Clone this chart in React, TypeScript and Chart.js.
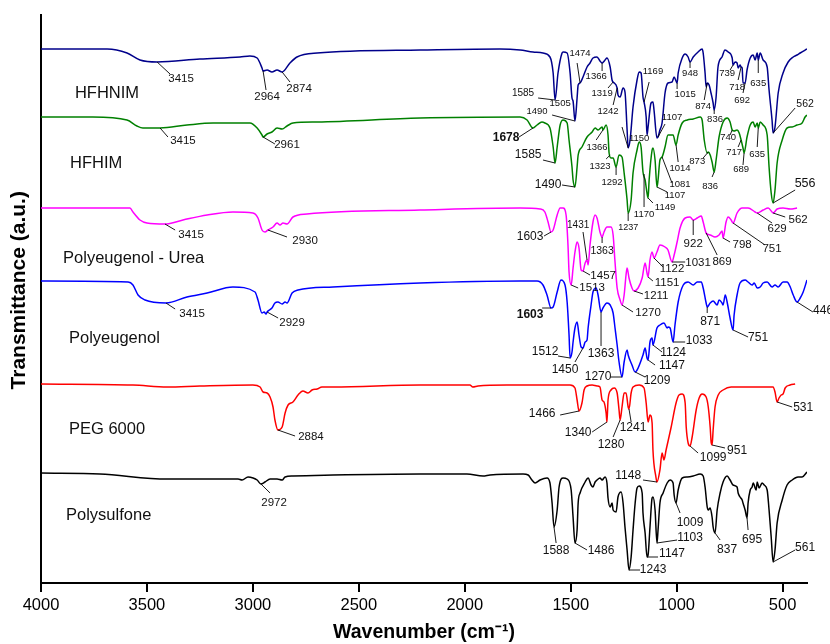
import React, { useEffect, useRef } from "react";
import { Chart, registerables } from "chart.js";

Chart.register(...registerables);

// ---------- data ----------
const X_TICKS = [4000, 3500, 3000, 2500, 2000, 1500, 1000, 500];
const SERIES_NAMES = ["HFHNIM", "HFHIM", "Polyeugenol - Urea", "Polyeugenol", "PEG 6000", "Polysulfone"];

// [wavenumber (cm-1), transmittance (a.u., offset stacked)]
const hfhnim = [
  [4000, 534], [3688, 534], [3594, 530], [3533, 523], [3452, 521], [3250, 524], [3061, 526], [3014, 527], [2980, 525],
  [2957, 515], [2952, 512], [2933, 513], [2910, 511], [2886, 513], [2862, 511], [2825, 520], [2792, 526], [2697, 530],
  [2211, 533], [1834, 534], [1739, 533], [1678, 531], [1631, 530], [1598, 526], [1583, 510], [1574, 483], [1560, 510],
  [1541, 530], [1536, 531], [1517, 530], [1503, 510], [1494, 485], [1489, 482], [1480, 462], [1470, 485], [1465, 498],
  [1456, 500], [1442, 506], [1423, 516], [1409, 520], [1395, 525], [1376, 526], [1362, 522], [1352, 520], [1338, 523],
  [1329, 525], [1314, 516], [1305, 503], [1300, 501], [1281, 495], [1277, 488], [1267, 486], [1253, 495], [1244, 491],
  [1234, 453], [1229, 435], [1220, 443], [1206, 476], [1187, 503], [1177, 511], [1168, 510], [1159, 486], [1154, 481],
  [1144, 466], [1140, 448], [1135, 456], [1121, 480], [1112, 481], [1107, 473], [1093, 445], [1088, 446], [1079, 453],
  [1069, 460], [1055, 490], [1041, 500], [1022, 501], [1012, 506], [998, 500], [993, 510], [974, 525], [960, 529],
  [946, 526], [937, 521], [922, 526], [899, 531], [880, 534], [875, 530], [866, 510], [861, 496], [856, 500], [847, 498],
  [838, 490], [828, 480], [823, 473], [814, 486], [805, 516], [786, 526], [772, 533], [757, 531], [738, 525], [734, 518],
  [724, 521], [715, 520], [710, 515], [701, 518], [696, 516], [691, 515], [687, 500], [677, 500], [668, 513], [653, 525],
  [639, 528], [630, 523], [620, 530], [615, 523], [606, 530], [592, 523], [573, 516], [564, 493], [550, 463], [545, 450],
  [536, 456], [521, 490], [498, 510], [474, 521], [450, 526], [432, 528], [417, 530], [385, 534],
];

const hfhim = [
  [4000, 466], [3756, 466], [3594, 463], [3547, 457], [3519, 455], [3438, 455], [3311, 458], [3188, 460], [3094, 460],
  [3014, 460], [2980, 455], [2957, 448], [2952, 446], [2933, 449], [2910, 451], [2886, 455], [2862, 454], [2839, 457],
  [2811, 460], [2697, 461], [2211, 465], [1739, 466], [1706, 463], [1678, 455], [1659, 458], [1636, 461], [1622, 460],
  [1598, 455], [1583, 436], [1574, 420], [1564, 436], [1550, 458], [1536, 463], [1517, 460], [1508, 443], [1494, 416],
  [1489, 403], [1480, 396], [1470, 416], [1465, 428], [1447, 436], [1423, 446], [1399, 451], [1385, 455], [1371, 453],
  [1352, 456], [1348, 453], [1333, 458], [1324, 448], [1319, 430], [1310, 425], [1300, 425], [1286, 416], [1272, 428],
  [1258, 426], [1248, 410], [1234, 383], [1229, 370], [1215, 383], [1206, 410], [1187, 433], [1177, 441], [1168, 436],
  [1159, 411], [1149, 403], [1140, 390], [1135, 385], [1130, 403], [1116, 433], [1112, 435], [1102, 423], [1093, 396],
  [1088, 403], [1079, 423], [1069, 426], [1055, 436], [1041, 448], [1017, 448], [1003, 438], [993, 448], [974, 460],
  [950, 463], [922, 464], [889, 466], [880, 463], [870, 443], [856, 430], [851, 431], [842, 428], [833, 421], [823, 411],
  [814, 423], [800, 446], [781, 461], [762, 465], [748, 461], [738, 453], [729, 452], [715, 453], [705, 450], [696, 443],
  [687, 435], [682, 430], [668, 446], [653, 458], [639, 461], [630, 456], [620, 460], [615, 455], [606, 461], [592, 458],
  [573, 448], [564, 416], [554, 390], [545, 380], [536, 393], [526, 420], [502, 443], [479, 455], [455, 456], [432, 458],
  [408, 460], [394, 466], [385, 468],
];

const polyeugenolUrea = [
  [4000, 375], [3580, 375], [3566, 371], [3533, 363], [3500, 360], [3415, 359], [3330, 363], [3216, 368], [3094, 371],
  [3000, 370], [2976, 365], [2957, 353], [2943, 351], [2929, 353], [2905, 356], [2886, 360], [2872, 358], [2858, 360],
  [2839, 359], [2811, 366], [2745, 369], [2211, 373], [1739, 375], [1645, 374], [1622, 371], [1607, 361], [1593, 351],
  [1583, 353], [1564, 368], [1550, 375], [1536, 375], [1522, 368], [1513, 338], [1508, 311], [1498, 298], [1489, 315],
  [1480, 331], [1470, 341], [1461, 335], [1451, 313], [1442, 312], [1432, 320], [1423, 323], [1418, 318], [1409, 338],
  [1395, 361], [1385, 368], [1376, 365], [1362, 351], [1352, 346], [1343, 351], [1329, 356], [1310, 356], [1300, 348],
  [1291, 321], [1281, 295], [1267, 283], [1258, 278], [1248, 288], [1239, 308], [1234, 315], [1225, 305], [1211, 295],
  [1201, 292], [1182, 295], [1163, 305], [1149, 320], [1140, 310], [1135, 306], [1126, 323], [1116, 331], [1107, 325],
  [1093, 331], [1079, 338], [1055, 336], [1041, 333], [1022, 321], [1012, 328], [998, 341], [984, 355], [960, 365],
  [937, 366], [922, 363], [903, 365], [884, 367], [875, 361], [861, 350], [842, 348], [819, 346], [800, 348], [786, 352],
  [781, 345], [767, 361], [757, 366], [743, 363], [734, 360], [715, 370], [691, 375], [663, 375], [630, 371], [620, 370],
  [592, 373], [568, 375], [550, 371], [545, 370], [526, 374], [498, 375], [464, 374], [432, 375],
];

const polyeugenol = [
  [4000, 302], [3589, 301], [3566, 298], [3542, 288], [3509, 283], [3410, 280], [3311, 286], [3216, 290], [3094, 296],
  [2990, 291], [2976, 283], [2957, 270], [2947, 271], [2938, 269], [2933, 271], [2910, 275], [2896, 280], [2882, 281],
  [2862, 279], [2848, 281], [2839, 280], [2815, 290], [2787, 293], [2622, 296], [2211, 300], [1739, 302], [1659, 302],
  [1631, 298], [1612, 288], [1593, 275], [1583, 276], [1564, 291], [1546, 303], [1527, 298], [1517, 281], [1508, 248],
  [1503, 225], [1494, 231], [1489, 241], [1480, 255], [1470, 261], [1461, 248], [1451, 236], [1442, 235], [1432, 241],
  [1423, 243], [1418, 255], [1404, 278], [1395, 291], [1380, 295], [1371, 288], [1357, 271], [1348, 275], [1329, 280],
  [1314, 278], [1300, 270], [1291, 255], [1281, 238], [1272, 221], [1258, 206], [1248, 221], [1234, 233], [1229, 228],
  [1211, 218], [1196, 211], [1182, 215], [1159, 228], [1149, 235], [1140, 225], [1135, 223], [1126, 241], [1116, 245],
  [1112, 238], [1093, 255], [1079, 258], [1060, 260], [1045, 255], [1041, 256], [1031, 255], [1017, 241], [1008, 258],
  [993, 281], [969, 298], [946, 301], [922, 298], [903, 301], [884, 301], [875, 295], [861, 280], [856, 276], [842, 280],
  [828, 282], [809, 278], [800, 283], [786, 280], [781, 278], [771, 288], [762, 281], [748, 265], [734, 253], [729, 268],
  [715, 288], [701, 300], [677, 303], [663, 301], [644, 298], [634, 300], [620, 295], [606, 296], [592, 300], [573, 301],
  [550, 296], [536, 298], [521, 296], [498, 301], [479, 301], [464, 296], [450, 288], [432, 281], [417, 285], [403, 291],
  [385, 303],
];

const peg6000 = [
  [4000, 199], [3566, 198], [3405, 196], [3250, 197], [3000, 198], [2966, 196], [2952, 191], [2933, 190], [2919, 186],
  [2905, 176], [2896, 163], [2882, 153], [2862, 156], [2848, 170], [2834, 178], [2811, 181], [2787, 188], [2764, 192],
  [2740, 190], [2721, 193], [2697, 194], [2674, 196], [2622, 196], [2211, 198], [2117, 198], [1976, 198], [1962, 196],
  [1938, 197], [1801, 198], [1645, 198], [1503, 198], [1480, 195], [1470, 183], [1461, 172], [1447, 180], [1437, 193],
  [1423, 197], [1399, 198], [1376, 197], [1362, 196], [1352, 183], [1343, 181], [1333, 170], [1329, 161], [1324, 183],
  [1310, 193], [1295, 195], [1281, 190], [1272, 173], [1267, 163], [1258, 176], [1248, 190], [1239, 190], [1229, 176],
  [1225, 174], [1215, 190], [1206, 196], [1177, 198], [1154, 195], [1144, 180], [1135, 161], [1126, 168], [1116, 160],
  [1112, 133], [1098, 106], [1093, 101], [1079, 113], [1069, 130], [1060, 123], [1050, 133], [1027, 155], [1003, 180],
  [989, 188], [974, 189], [960, 180], [955, 156], [946, 140], [937, 137], [927, 146], [908, 173], [894, 185], [880, 189],
  [861, 186], [851, 176], [842, 156], [837, 140], [833, 138], [828, 153], [819, 176], [804, 188], [781, 193], [743, 196],
  [649, 196], [569, 196], [545, 196], [536, 191], [526, 181], [517, 185], [507, 188], [498, 189], [488, 195], [465, 198],
  [441, 199],
];

const polysulfone = [
  [4000, 110], [3722, 109], [3405, 104], [3169, 104], [3070, 104], [3051, 103], [3023, 106], [2999, 105], [2980, 103],
  [2962, 99], [2943, 101], [2919, 104], [2886, 104], [2862, 103], [2848, 106], [2811, 107], [2622, 108], [2211, 109],
  [2117, 109], [1990, 109], [1914, 107], [1881, 108], [1725, 109], [1701, 108], [1683, 103], [1668, 100], [1645, 103],
  [1612, 105], [1598, 100], [1588, 80], [1579, 56], [1564, 73], [1555, 96], [1536, 105], [1517, 104], [1498, 93],
  [1489, 66], [1480, 40], [1470, 53], [1465, 80], [1456, 90], [1432, 101], [1418, 105], [1404, 98], [1395, 96],
  [1385, 101], [1376, 103], [1362, 105], [1352, 103], [1338, 106], [1329, 100], [1324, 85], [1314, 76], [1305, 80],
  [1300, 73], [1286, 71], [1277, 86], [1262, 91], [1253, 80], [1244, 56], [1234, 33], [1225, 13], [1215, 26], [1206, 53],
  [1196, 80], [1187, 95], [1177, 97], [1163, 90], [1159, 70], [1149, 50], [1140, 26], [1135, 28], [1126, 56], [1116, 85],
  [1112, 86], [1102, 73], [1093, 40], [1088, 53], [1079, 80], [1064, 90], [1045, 100], [1031, 103], [1017, 100],
  [1012, 88], [1003, 80], [993, 93], [974, 105], [950, 106], [922, 107], [889, 109], [875, 107], [866, 96], [856, 76],
  [851, 73], [842, 75], [833, 66], [828, 56], [819, 50], [809, 73], [795, 90], [781, 101], [762, 107], [748, 103],
  [734, 98], [715, 96], [710, 90], [701, 86], [691, 83], [687, 80], [677, 73], [668, 65], [663, 80], [653, 93], [644, 96],
  [639, 100], [625, 93], [620, 101], [611, 95], [597, 100], [587, 98], [573, 93], [564, 73], [554, 46], [545, 21],
  [536, 33], [526, 60], [502, 83], [479, 98], [455, 103], [441, 105], [427, 106], [408, 106], [385, 111],
];

// peak labels: t = text, p = peak point, e = end of leader line, l = label centre (all in data units)
type Peak = { t: string; p: number[]; e: number[]; l: number[]; s: number; b?: boolean };

const hfhnimPeaks: Peak[] = [
  { t: "3415", p: [3452, 521], e: [3391, 509], l: [3339, 504], s: 11.5 },
  { t: "2964", p: [2952, 512], e: [2938, 493], l: [2933, 486], s: 11.5 },
  { t: "2874", p: [2862, 511], e: [2825, 501], l: [2782, 494], s: 11.5 },
  { t: "1585", p: [1574, 483], e: [1654, 485], l: [1725, 490], s: 10 },
  { t: "1505", p: [1489, 482], e: [1489, 482], l: [1550, 480], s: 9.5 },
  { t: "1490", p: [1480, 462], e: [1588, 468], l: [1659, 472], s: 9.5 },
  { t: "1474", p: [1456, 500], e: [1470, 520], l: [1456, 530], s: 9.5 },
  { t: "1366", p: [1352, 520], e: [1352, 512], l: [1380, 507], s: 9.5 },
  { t: "1319", p: [1300, 501], e: [1324, 495], l: [1352, 490], s: 9.5 },
  { t: "1242", p: [1281, 495], e: [1300, 478], l: [1324, 472], s: 9.5 },
  { t: "1150", p: [1229, 435], e: [1258, 456], l: [1177, 445], s: 9.5 },
  { t: "1169", p: [1154, 481], e: [1130, 501], l: [1112, 512], s: 9.5 },
  { t: "1107", p: [1088, 446], e: [1055, 459], l: [1022, 466], s: 9.5 },
  { t: "1015", p: [998, 500], e: [998, 494], l: [960, 489], s: 9.5 },
  { t: "948", p: [937, 521], e: [937, 515], l: [937, 510], s: 9.5 },
  { t: "874", p: [856, 500], e: [870, 483], l: [875, 477], s: 9.5 },
  { t: "836", p: [823, 473], e: [823, 469], l: [819, 464], s: 9.5 },
  { t: "739", p: [734, 518], e: [748, 513], l: [762, 510], s: 9.5 },
  { t: "718", p: [696, 516], e: [710, 503], l: [715, 496], s: 9.5 },
  { t: "692", p: [677, 500], e: [687, 490], l: [691, 483], s: 9.5 },
  { t: "635", p: [615, 523], e: [615, 510], l: [615, 500], s: 9.5 },
  { t: "562", p: [545, 450], e: [441, 475], l: [394, 479], s: 10.5 },
];

const hfhimPeaks: Peak[] = [
  { t: "3415", p: [3438, 455], e: [3401, 446], l: [3330, 442], s: 11.5 },
  { t: "2961", p: [2952, 446], e: [2896, 439], l: [2839, 438], s: 11.5 },
  { t: "1678", p: [1678, 455], e: [1744, 446], l: [1805, 445], s: 12, b: true },
  { t: "1585", p: [1574, 420], e: [1631, 423], l: [1701, 428], s: 12 },
  { t: "1490", p: [1480, 396], e: [1541, 398], l: [1607, 398], s: 12 },
  { t: "1366", p: [1348, 453], e: [1380, 443], l: [1376, 436], s: 9.5 },
  { t: "1323", p: [1314, 428], e: [1333, 424], l: [1362, 417], s: 9.5 },
  { t: "1292", p: [1286, 416], e: [1286, 408], l: [1305, 401], s: 9.5 },
  { t: "1237", p: [1229, 370], e: [1229, 362], l: [1229, 355], s: 9 },
  { t: "1170", p: [1154, 409], e: [1154, 376], l: [1154, 369], s: 9.5 },
  { t: "1149", p: [1135, 385], e: [1112, 380], l: [1055, 376], s: 9.5 },
  { t: "1107", p: [1093, 396], e: [1045, 391], l: [1008, 388], s: 9.5 },
  { t: "1081", p: [1069, 426], e: [1022, 400], l: [984, 399], s: 9.5 },
  { t: "1014", p: [1003, 438], e: [993, 421], l: [984, 415], s: 9.5 },
  { t: "873", p: [851, 431], e: [875, 425], l: [903, 422], s: 9.5 },
  { t: "836", p: [823, 411], e: [833, 406], l: [842, 397], s: 9.5 },
  { t: "740", p: [738, 453], e: [748, 448], l: [757, 446], s: 9.5 },
  { t: "717", p: [696, 443], e: [710, 436], l: [729, 431], s: 9.5 },
  { t: "689", p: [682, 430], e: [687, 418], l: [696, 414], s: 9.5 },
  { t: "635", p: [615, 455], e: [620, 436], l: [620, 429], s: 9.5 },
  { t: "556", p: [545, 380], e: [441, 393], l: [394, 399], s: 12.5 },
];

const polyeugenolUreaPeaks: Peak[] = [
  { t: "3415", p: [3415, 359], e: [3367, 353], l: [3292, 348], s: 11.5 },
  { t: "2930", p: [2929, 353], e: [2839, 346], l: [2754, 342], s: 11.5 },
  { t: "1603", p: [1593, 351], e: [1626, 347], l: [1692, 346], s: 12 },
  { t: "1431", p: [1423, 323], e: [1442, 351], l: [1465, 358], s: 10 },
  { t: "1363", p: [1352, 346], e: [1352, 340], l: [1352, 332], s: 10.5 },
  { t: "1457", p: [1442, 312], e: [1409, 308], l: [1347, 307], s: 11.5 },
  { t: "1513", p: [1498, 298], e: [1465, 295], l: [1399, 295], s: 11.5 },
  { t: "1270", p: [1258, 278], e: [1206, 271], l: [1135, 270], s: 11.5 },
  { t: "1211", p: [1201, 292], e: [1159, 289], l: [1097, 287], s: 11.5 },
  { t: "1151", p: [1135, 306], e: [1112, 302], l: [1045, 300], s: 11.5 },
  { t: "1122", p: [1107, 325], e: [1064, 316], l: [1022, 314], s: 11.5 },
  { t: "1031", p: [1022, 321], e: [960, 321], l: [899, 320], s: 11.5 },
  { t: "922", p: [922, 363], e: [922, 348], l: [922, 339], s: 11.5 },
  { t: "869", p: [861, 350], e: [809, 328], l: [786, 321], s: 11.5 },
  { t: "798", p: [781, 345], e: [748, 341], l: [691, 338], s: 11.5 },
  { t: "751", p: [734, 360], e: [583, 338], l: [550, 334], s: 11.5 },
  { t: "629", p: [620, 370], e: [550, 360], l: [526, 354], s: 11.5 },
  { t: "562", p: [545, 370], e: [488, 366], l: [427, 363], s: 11.5 },
];

const polyeugenolPeaks: Peak[] = [
  { t: "3415", p: [3410, 280], e: [3367, 274], l: [3287, 269], s: 11.5 },
  { t: "2929", p: [2933, 271], e: [2881, 265], l: [2815, 260], s: 11.5 },
  { t: "1603", p: [1593, 275], e: [1635, 275], l: [1692, 268], s: 12, b: true },
  { t: "1512", p: [1503, 225], e: [1560, 227], l: [1621, 231], s: 12 },
  { t: "1450", p: [1442, 235], e: [1480, 221], l: [1527, 213], s: 12 },
  { t: "1363", p: [1357, 271], e: [1357, 237], l: [1357, 229], s: 12 },
  { t: "1270", p: [1258, 206], e: [1314, 206], l: [1371, 206], s: 12 },
  { t: "1209", p: [1196, 211], e: [1149, 206], l: [1093, 202], s: 12 },
  { t: "1147", p: [1135, 223], e: [1102, 218], l: [1022, 217], s: 12 },
  { t: "1124", p: [1112, 238], e: [1069, 231], l: [1017, 230], s: 12 },
  { t: "1033", p: [1017, 241], e: [960, 241], l: [894, 242], s: 12 },
  { t: "871", p: [856, 276], e: [856, 270], l: [842, 261], s: 12 },
  { t: "751", p: [734, 253], e: [663, 246], l: [616, 245], s: 12 },
  { t: "446", p: [432, 281], e: [357, 271], l: [309, 272], s: 12 },
];

const peg6000Peaks: Peak[] = [
  { t: "2884", p: [2882, 153], e: [2801, 147], l: [2726, 146], s: 11.5 },
  { t: "1466", p: [1461, 172], e: [1550, 168], l: [1635, 169], s: 12 },
  { t: "1340", p: [1329, 161], e: [1399, 151], l: [1465, 150], s: 12 },
  { t: "1280", p: [1267, 163], e: [1300, 146], l: [1310, 138], s: 12 },
  { t: "1241", p: [1225, 174], e: [1215, 161], l: [1206, 155], s: 12 },
  { t: "1148", p: [1093, 101], e: [1159, 103], l: [1229, 107], s: 12 },
  { t: "1099", p: [937, 137], e: [899, 130], l: [828, 125], s: 12 },
  { t: "951", p: [833, 138], e: [772, 135], l: [715, 132], s: 12 },
  { t: "531", p: [526, 181], e: [455, 176], l: [403, 175], s: 12 },
];

const polysulfonePeaks: Peak[] = [
  { t: "2972", p: [2962, 99], e: [2919, 90], l: [2900, 80], s: 11.5 },
  { t: "1588", p: [1579, 56], e: [1569, 40], l: [1569, 32], s: 12 },
  { t: "1486", p: [1480, 40], e: [1423, 33], l: [1357, 32], s: 12 },
  { t: "1243", p: [1225, 13], e: [1173, 13], l: [1111, 13], s: 12 },
  { t: "1147", p: [1140, 26], e: [1088, 26], l: [1022, 29], s: 12 },
  { t: "1103", p: [1093, 40], e: [998, 43], l: [937, 45], s: 12 },
  { t: "1009", p: [1003, 80], e: [984, 70], l: [937, 60], s: 12 },
  { t: "837", p: [819, 50], e: [795, 43], l: [762, 33], s: 12 },
  { t: "695", p: [668, 65], e: [663, 53], l: [644, 43], s: 12 },
  { t: "561", p: [545, 21], e: [441, 33], l: [394, 35], s: 12 },
];

// ---------- styling / placement ----------
const SERIES_DATA = [hfhnim, hfhim, polyeugenolUrea, polyeugenol, peg6000, polysulfone];
const SERIES_PEAKS = [hfhnimPeaks, hfhimPeaks, polyeugenolUreaPeaks, polyeugenolPeaks, peg6000Peaks, polysulfonePeaks];
const SERIES_COLORS = ["#00008B", "#008000", "#FF00FF", "#0000FF", "#FF0000", "#000000"];
const NAME_POS = [[3840, 490], [3863, 420], [3896, 325], [3868, 245], [3868, 154], [3882, 68]];

const FONT = "'Liberation Sans', Arial, Helvetica, sans-serif";

const labelPlugin = {
  id: "peakLabels",
  afterDraw(chart: any) {
    const { ctx, scales } = chart;
    const xs = scales.x;
    const ys = scales.y;
    ctx.save();
    ctx.textAlign = "center";
    ctx.textBaseline = "middle";
    SERIES_PEAKS.forEach((group) => {
      group.forEach((a) => {
        const px = xs.getPixelForValue(a.p[0]);
        const py = ys.getPixelForValue(a.p[1]);
        const ex = xs.getPixelForValue(a.e[0]);
        const ey = ys.getPixelForValue(a.e[1]);
        if (Math.abs(px - ex) + Math.abs(py - ey) > 0.5) {
          ctx.beginPath();
          ctx.moveTo(px, py);
          ctx.lineTo(ex, ey);
          ctx.strokeStyle = "#000";
          ctx.lineWidth = 0.9;
          ctx.stroke();
        }
        ctx.font = `${a.b ? "bold " : ""}${a.s}px ${FONT}`;
        ctx.fillStyle = "#111";
        ctx.fillText(a.t, xs.getPixelForValue(a.l[0]), ys.getPixelForValue(a.l[1]));
      });
    });
    ctx.textAlign = "left";
    ctx.font = `16.5px ${FONT}`;
    ctx.fillStyle = "#111";
    SERIES_NAMES.forEach((name, i) => {
      ctx.fillText(name, xs.getPixelForValue(NAME_POS[i][0]), ys.getPixelForValue(NAME_POS[i][1]));
    });
    ctx.restore();
  },
};

export default function App() {
  const ref = useRef<HTMLCanvasElement | null>(null);

  useEffect(() => {
    if (!ref.current) return;
    const chart = new Chart(ref.current, {
      type: "line",
      data: {
        datasets: SERIES_DATA.map((d, i) => ({
          label: SERIES_NAMES[i],
          data: d.map(([x, y]) => ({ x, y })),
          borderColor: SERIES_COLORS[i],
          borderWidth: 1.5,
          pointRadius: 0,
          cubicInterpolationMode: "monotone",
          fill: false,
        })),
      },
      options: {
        animation: false,
        responsive: false,
        maintainAspectRatio: false,
        layout: { padding: { left: 0, right: 23, top: 15, bottom: 0 } },
        plugins: { legend: { display: false }, tooltip: { enabled: false } },
        scales: {
          x: {
            type: "linear",
            reverse: true,
            min: 385,
            max: 4000,
            afterBuildTicks: (s: any) => {
              s.ticks = X_TICKS.map((value) => ({ value }));
            },
            afterFit: (s: any) => {
              s.height = 61;
            },
            grid: { drawOnChartArea: false, drawTicks: true, tickLength: 9, color: "#000", lineWidth: 2 },
            border: { display: true, color: "#000", width: 2 },
            ticks: {
              color: "#000",
              font: { family: FONT, size: 16.5 },
              padding: 4,
              maxRotation: 0,
              autoSkip: false,
              callback: (v: any) => String(v),
            },
            title: {
              display: true,
              text: "Wavenumber (cm\u207B\u00B9)",
              color: "#000",
              font: { family: FONT, size: 19.5, weight: "bold" },
              padding: { top: 0, bottom: 0 },
            },
          },
          y: {
            type: "linear",
            min: 0,
            max: 568,
            afterFit: (s: any) => {
              s.width = 41;
            },
            grid: { display: false },
            ticks: { display: false },
            border: { display: true, color: "#000", width: 2 },
            title: {
              display: true,
              text: "\u00A0\u00A0\u00A0Transmittance (a.u.)",
              color: "#000",
              font: { family: FONT, size: 21, weight: "bold" },
              padding: { top: 7, bottom: 0 },
            },
          },
        },
      },
      plugins: [labelPlugin],
    } as any);
    return () => chart.destroy();
  }, []);

  return (
    <div style={{ position: "fixed", left: 0, top: 0, width: 830, height: 644, background: "#fff" }}>
      <canvas ref={ref} width={830} height={644} style={{ display: "block" }} />
    </div>
  );
}
